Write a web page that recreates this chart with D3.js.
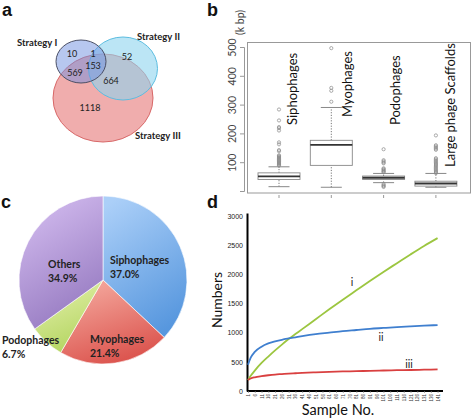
<!DOCTYPE html>
<html><head><meta charset="utf-8">
<script src="https://cdn.jsdelivr.net/npm/d3@7"></script>
<style>body{margin:0;background:#fff}svg{display:block}</style>
</head><body>
<svg id="chart" width="472" height="419"></svg>
<script>
// ---------- DATA ----------
// Panel a (Venn)
const vennSets = ["Strategy I", "Strategy II", "Strategy III"];
const vennRegions = ["I only", "I∩II only", "II only", "I∩II∩III", "I∩III only", "II∩III only", "III only"];
const vennCounts = [10, 1, 52, 153, 569, 664, 1118];
// Panel b (box plot, k bp)
const boxCategories = ["Siphophages", "Myophages", "Podophages", "Large phage Scaffolds"];
const boxLow = [15, 13, 29, 13];
const boxQ1 = [40, 89, 40, 17];
const boxMedian = [51, 160, 46, 26];
const boxQ3 = [63, 176, 52, 34];
const boxHigh = [84, 290, 61, 61];
const outSipho = [283, 245, 222, 218, 210, 169, 162, 142, 138, 124, 121, 118, 115, 112, 109, 106, 103, 100, 97, 94, 91, 88];
const outMyo = [496, 358, 348, 310];
const outPodo = [145, 107, 103, 99, 96, 79, 76, 73, 70, 67, 65, 24, 20, 17, 14];
const outLarge = [193, 159, 155, 151, 147, 143, 114, 110, 106, 102, 98, 94, 90, 86, 82, 78, 74, 70, 66, 62];
const boxTicks = [0, 100, 200, 300, 400, 500];
const boxTickLabels = ["", "100", "200", "300", "400", "500"];
// Panel c (pie, %)
const pieCategories = ["Siphophages", "Myophages", "Podophages", "Others"];
const pieShares = [37.0, 21.4, 6.7, 34.9];
// Panel d (accumulation curves)
const sampleNo = [1, 3, 6, 11, 16, 21, 26, 31, 36, 41, 51, 61, 71, 81, 91, 101, 111, 121, 131, 141];
const curveI   = [190, 260, 350, 480, 590, 695, 795, 890, 975, 1060, 1230, 1400, 1565, 1725, 1885, 2040, 2190, 2340, 2485, 2620];
const curveII  = [450, 570, 670, 760, 815, 850, 878, 900, 920, 940, 975, 1000, 1025, 1045, 1065, 1080, 1095, 1108, 1120, 1130];
const curveIII = [190, 215, 235, 255, 270, 282, 290, 298, 304, 310, 320, 328, 335, 340, 346, 351, 356, 360, 365, 370];
const curveNames = ["i", "ii", "iii"];
const dYTicks = [0, 500, 1000, 1500, 2000, 2500, 3000];
const dXTicks = [1, 6, 11, 16, 21, 26, 31, 36, 41, 46, 51, 56, 61, 66, 71, 76, 81, 86, 91, 96, 101, 106, 111, 116, 121, 126, 131, 136, 141];

// ---------- DRAW ----------
const svg = d3.select("#chart");
const sans = "Lato, 'Open Sans', sans-serif";
const defs = svg.append("defs");

// panel letters
[["a", 2, 16], ["b", 207, 16], ["c", 1, 208], ["d", 207, 208]].forEach(([t, x, y]) =>
  svg.append("text").attr("x", x).attr("y", y).text(t)
    .attr("font-family", "'Liberation Sans', Arial, sans-serif").attr("font-weight", "bold").attr("font-size", 18).attr("fill", "#111"));

// ----- Panel a -----
const vennShapes = [
  {cx: 103, cy: 98, rx: 50, ry: 44, fill: "#e67676", op: 0.6, stroke: "#d86868"},
  {cx: 123, cy: 68.5, rx: 34.5, ry: 31.5, fill: "#8ed4ee", op: 0.6, stroke: "#5cbde0"},
  {cx: 81, cy: 61.5, rx: 25, ry: 21.5, fill: "#6f8fe0", op: 0.5, stroke: "#4a4f66"}
];
const gA = svg.append("g");
gA.selectAll("ellipse").data(vennShapes).join("ellipse")
  .attr("cx", d => d.cx).attr("cy", d => d.cy).attr("rx", d => d.rx).attr("ry", d => d.ry)
  .attr("fill", d => d.fill).attr("fill-opacity", d => d.op)
  .attr("stroke", d => d.stroke).attr("stroke-width", 1);
const vennSetLabelPos = [[17, 46], [137, 40], [135, 139]];
gA.selectAll("text.set").data(vennSets).join("text").attr("class", "set")
  .attr("x", (d, i) => vennSetLabelPos[i][0]).attr("y", (d, i) => vennSetLabelPos[i][1])
  .text(d => d).attr("font-family", sans).attr("font-weight", "bold").attr("font-size", 9.5).style("fill", "#222");
const vennCountPos = [[72, 53.5], [93, 53], [127, 56], [93, 65.5], [75, 72], [111, 80], [90, 107]];
gA.selectAll("text.cnt").data(vennCounts).join("text").attr("class", "cnt")
  .attr("x", (d, i) => vennCountPos[i][0]).attr("y", (d, i) => vennCountPos[i][1])
  .attr("text-anchor", "middle").attr("dominant-baseline", "central")
  .text(d => d).attr("font-family", sans).attr("font-size", 9).style("fill", "#222");

// ----- Panel b -----
const gB = svg.append("g");
const yB = d3.scaleLinear().domain([0, 500]).range([191, 47]);
const xB = d3.scaleBand().domain(boxCategories).range([252.85, 462.05]).padding(0);
const boxW = 42;
gB.append("rect").attr("x", 247.5).attr("y", 42.5).attr("width", 223).attr("height", 150.5)
  .attr("fill", "none").attr("stroke", "#999").attr("stroke-width", 1);
const axB = gB.append("g").attr("transform", "translate(244,0)")
  .call(d3.axisLeft(yB).tickValues(boxTicks).tickSize(4).tickFormat((d, i) => boxTickLabels[i]));
axB.select(".domain").attr("stroke", "#999");
axB.selectAll(".tick line").attr("stroke", "#999");
axB.selectAll(".tick text").attr("transform", "rotate(-90)").attr("x", 0).attr("y", -8).attr("dy", "0")
  .attr("text-anchor", "middle").attr("font-family", sans).attr("font-size", 10.5).attr("fill", "#444");
gB.append("text").attr("transform", "translate(240,35) rotate(-90)").attr("dy", "0.35em")
  .text("(k bp)").attr("font-family", sans).attr("font-size", 10.5).style("fill", "#444");
const axBx = gB.append("g").attr("transform", "translate(0,195)")
  .call(d3.axisBottom(xB).tickSize(3).tickFormat(""));
axBx.select(".domain").remove();
axBx.selectAll(".tick line").attr("stroke", "#999");

const boxData = boxCategories.map((c, i) => ({c, lo: boxLow[i], q1: boxQ1[i], md: boxMedian[i], q3: boxQ3[i], hi: boxHigh[i],
  out: [outSipho, outMyo, outPodo, outLarge][i]}));
const bg = gB.selectAll("g.box").data(boxData).join("g").attr("class", "box")
  .attr("transform", d => `translate(${xB(d.c) + xB.bandwidth() / 2},0)`);
bg.append("line").attr("y1", d => yB(d.lo)).attr("y2", d => yB(d.q1))
  .attr("stroke", "#777").attr("stroke-dasharray", "1.2,1.5");
bg.append("line").attr("y1", d => yB(d.q3)).attr("y2", d => yB(d.hi))
  .attr("stroke", "#777").attr("stroke-dasharray", "1.2,1.5");
bg.append("line").attr("x1", -boxW / 4).attr("x2", boxW / 4).attr("y1", d => yB(d.lo)).attr("y2", d => yB(d.lo)).attr("stroke", "#888");
bg.append("line").attr("x1", -boxW / 4).attr("x2", boxW / 4).attr("y1", d => yB(d.hi)).attr("y2", d => yB(d.hi)).attr("stroke", "#888");
bg.append("rect").attr("x", -boxW / 2).attr("width", boxW).attr("y", d => yB(d.q3)).attr("height", d => yB(d.q1) - yB(d.q3))
  .attr("fill", "#fff").attr("stroke", "#888").attr("stroke-width", 0.9);
bg.append("line").attr("x1", -boxW / 2).attr("x2", boxW / 2).attr("y1", d => yB(d.md)).attr("y2", d => yB(d.md))
  .attr("stroke", "#333").attr("stroke-width", 1.8);
bg.selectAll("circle").data(d => d.out).join("circle").attr("cy", v => yB(v)).attr("r", 1.6)
  .attr("fill", "none").attr("stroke", "#888").attr("stroke-width", 0.7);
const boxLabelPos = [[293, 125], [348, 117], [396, 125], [451, 167]];
gB.selectAll("text.cat").data(boxCategories).join("text").attr("class", "cat")
  .attr("transform", (d, i) => `translate(${boxLabelPos[i][0]},${boxLabelPos[i][1]}) rotate(-90)`)
  .attr("dy", "0.3em").text(d => d)
  .attr("font-family", sans).attr("font-size", 13).style("fill", "#111");

// ----- Panel c -----
const gC = svg.append("g").attr("transform", "translate(103,280)");
const pieColors = [["#abcff8", "#5797de"], ["#f5aba0", "#db524c"], ["#e4f0ac", "#b2d45e"], ["#d4bdf0", "#9579c0"]];
pieCategories.forEach((c, i) => {
  const g = defs.append("linearGradient").attr("id", "pg" + i).attr("x1", 0.2).attr("y1", 0).attr("x2", 0.6).attr("y2", 1);
  g.append("stop").attr("offset", "0%").attr("stop-color", pieColors[i][0]);
  g.append("stop").attr("offset", "100%").attr("stop-color", pieColors[i][1]);
});
const pie = d3.pie().sort(null).value(d => d);
const arc = d3.arc().innerRadius(0).outerRadius(84);
gC.selectAll("path").data(pie(pieShares)).join("path")
  .attr("d", arc).attr("fill", (d, i) => `url(#pg${i})`).attr("stroke", "#fff").attr("stroke-width", 0.6);
const pieLabelPos = [[7, -16], [-13, 63], [-101, 64], [-55, -12]];
pieCategories.forEach((c, i) => {
  const t = gC.append("text").attr("x", pieLabelPos[i][0]).attr("y", pieLabelPos[i][1])
    .attr("font-family", sans).attr("font-weight", "bold").attr("font-size", 10.5).style("fill", "#222");
  t.append("tspan").attr("x", pieLabelPos[i][0]).text(c);
  t.append("tspan").attr("x", pieLabelPos[i][0]).attr("dy", 13.5).text(pieShares[i].toFixed(1) + "%");
});

// ----- Panel d -----
const gD = svg.append("g");
const xD = d3.scaleLinear().domain([1, 145]).range([248, 443]);
const yD = d3.scaleLinear().domain([0, 3050]).range([391, 213]);
const axDy = gD.append("g").attr("transform", "translate(247,0)")
  .call(d3.axisLeft(yD).tickValues(dYTicks).tickSize(0).tickPadding(4).tickFormat(d3.format("d")));
axDy.select(".domain").attr("stroke", "#000").attr("stroke-width", 2);
axDy.selectAll(".tick text").attr("font-family", "'Liberation Sans', sans-serif").attr("font-size", 7).attr("fill", "#222");
const axDx = gD.append("g").attr("transform", "translate(0,391)")
  .call(d3.axisBottom(xD).tickValues(dXTicks).tickSize(1.5).tickPadding(1).tickFormat(d3.format("d")));
axDx.select(".domain").attr("stroke", "#000").attr("stroke-width", 2).attr("d", "M247,0H443");
axDx.selectAll(".tick line").attr("stroke", "#555");
axDx.selectAll(".tick text").attr("transform", "rotate(-90)").attr("text-anchor", "end")
  .attr("x", -3).attr("y", 0).attr("dy", "0.35em")
  .attr("font-family", "'Liberation Sans', sans-serif").attr("font-size", 4.5).attr("fill", "#333");
const curves = [curveI, curveII, curveIII];
const curveColors = ["#9cc640", "#3f7fcf", "#d94040"];
const line = d3.line().x((d, i) => xD(sampleNo[i])).y(d => yD(d)).curve(d3.curveMonotoneX);
gD.selectAll("path.curve").data(curves).join("path").attr("class", "curve")
  .attr("d", line).attr("fill", "none").attr("stroke", (d, i) => curveColors[i]).attr("stroke-width", 1.8);
const curveLabelPos = [[352, 282], [381, 337], [409, 364]];
gD.selectAll("text.cl").data(curveNames).join("text").attr("class", "cl")
  .attr("x", (d, i) => curveLabelPos[i][0]).attr("y", (d, i) => curveLabelPos[i][1])
  .attr("text-anchor", "middle").attr("dominant-baseline", "central")
  .text(d => d).attr("font-family", sans).attr("font-size", 10.5).style("fill", "#222");
gD.append("text").attr("transform", "translate(217,300) rotate(-90)").attr("text-anchor", "middle").attr("dy", "0.35em")
  .text("Numbers").attr("font-family", sans).attr("font-size", 14).style("fill", "#111");
gD.append("text").attr("x", 338).attr("y", 415).attr("text-anchor", "middle")
  .text("Sample No.").attr("font-family", sans).attr("font-size", 14.5).style("fill", "#111");
</script>
</body></html>
